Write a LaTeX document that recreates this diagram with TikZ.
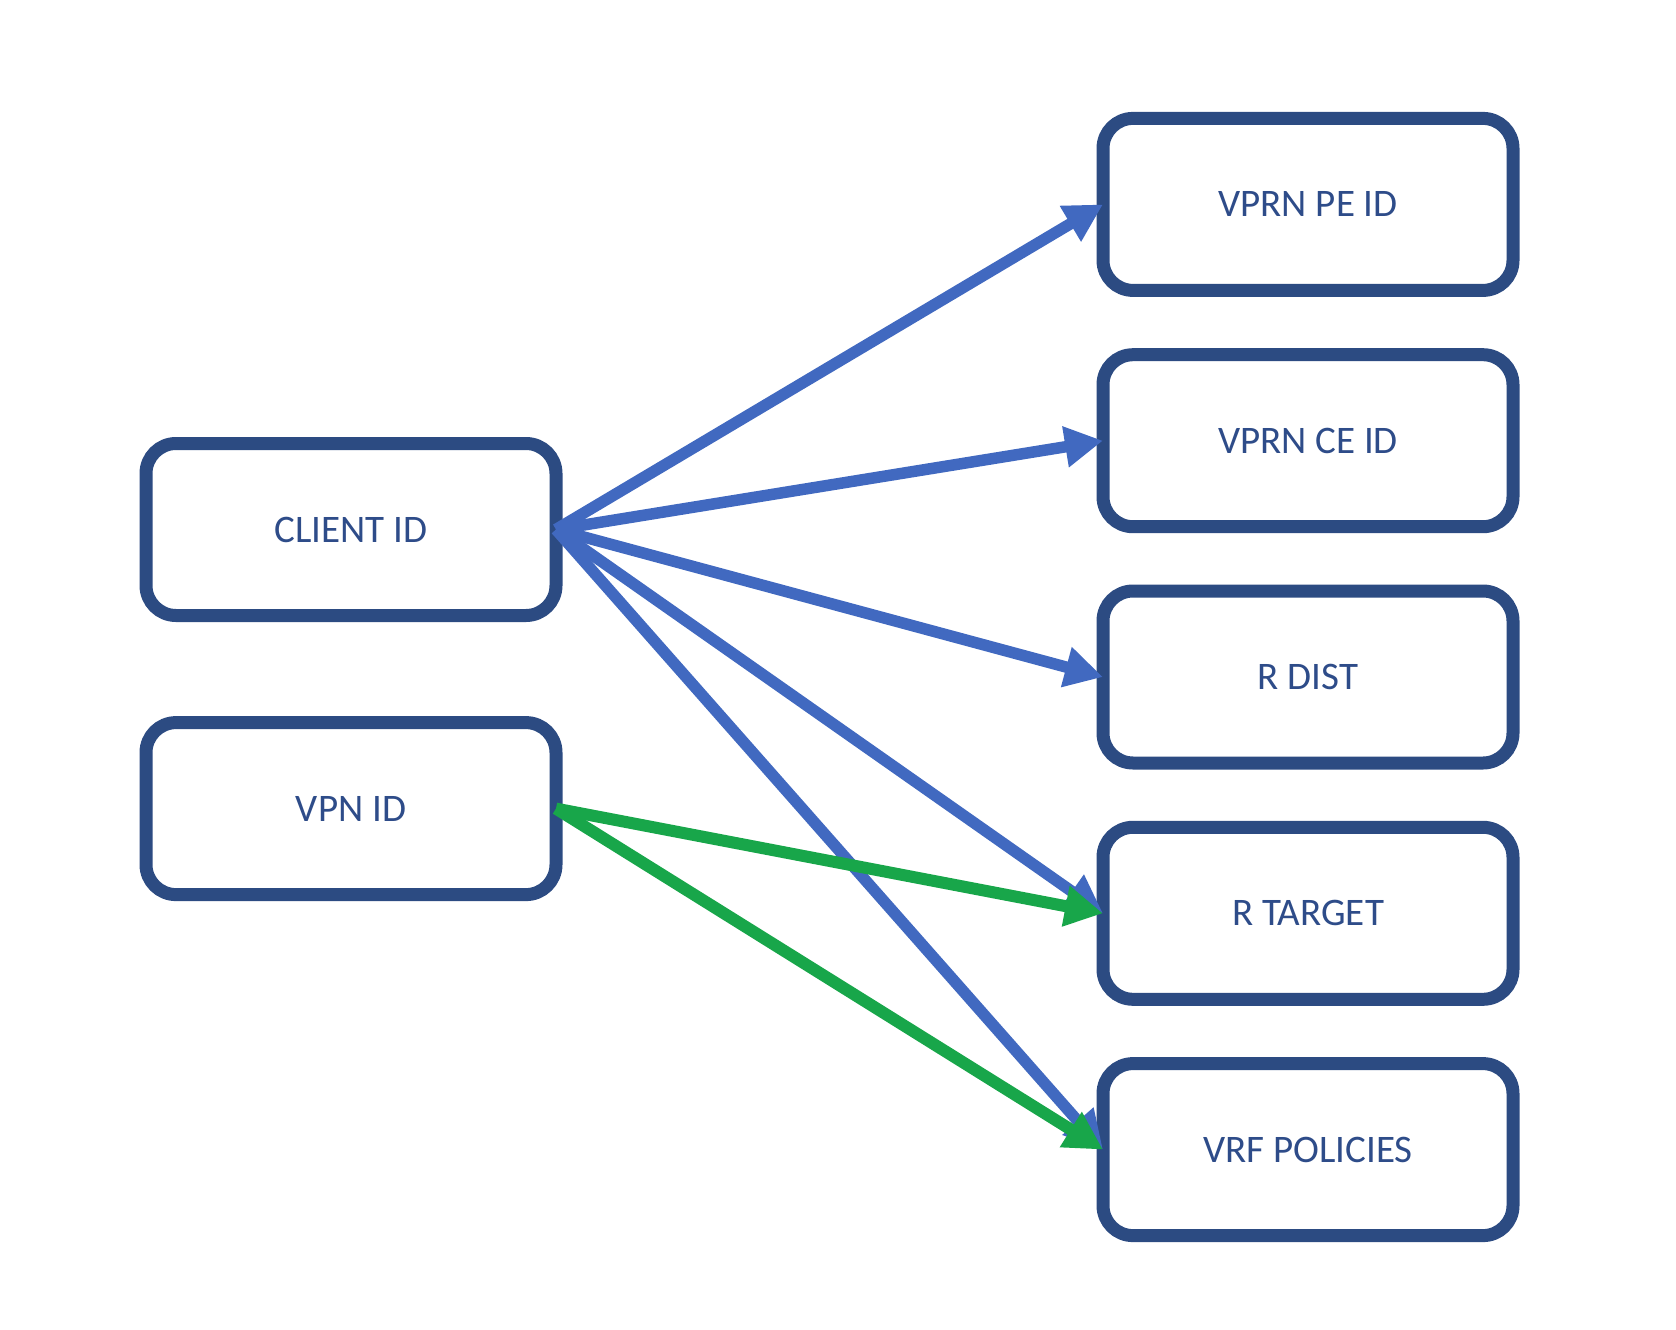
\documentclass[tikz,border=0pt]{standalone}
\usepackage{fontspec}
\setmainfont{Carlito}
\usetikzlibrary{arrows.meta}
\definecolor{boxline}{RGB}{44,75,130}
\definecolor{boxtext}{RGB}{46,76,137}
\definecolor{linkblue}{RGB}{65,105,192}
\definecolor{linkgreen}{RGB}{24,166,74}
\tikzset{
  idbox/.style={draw=boxline, line width=13pt, fill=white, rectangle,
    rounded corners=30pt, minimum width=410pt, minimum height=172pt,
    inner sep=0pt, outer sep=0pt, text=boxtext,
    font=\fontsize{39}{46}\selectfont},
  bluelink/.style={draw=linkblue, line width=11.5pt,
    -{Triangle[length=38pt,width=39pt]}},
  greenlink/.style={draw=linkgreen, line width=12pt,
    -{Triangle[length=38pt,width=39pt]}}
}
\begin{document}
\begin{tikzpicture}[x=1pt,y=-1pt]
  \useasboundingbox (0,0) rectangle (1676,1330);
  % source identifiers
  \node[idbox] (client) at (351,529.5) {CLIENT ID};
  \node[idbox] (vpn)    at (351,808.6) {VPN ID};
  % derived identifiers
  \node[idbox] (pe)     at (1308,204.4) {VPRN PE ID};
  \node[idbox] (ce)     at (1308,440.7) {VPRN CE ID};
  \node[idbox] (rdist)  at (1308,677)   {R DIST};
  \node[idbox] (rtgt)   at (1308,913.3) {R TARGET};
  \node[idbox] (vrf)    at (1308,1149.6){VRF POLICIES};
  % client id dependencies
  \draw[bluelink] (client.east) -- (pe.west);
  \draw[bluelink] (client.east) -- (ce.west);
  \draw[bluelink] (client.east) -- (rdist.west);
  \draw[bluelink] (client.east) -- (rtgt.west);
  \draw[bluelink] (client.east) -- (vrf.west);
  % vpn id dependencies
  \draw[greenlink] (vpn.east) -- (rtgt.west);
  \draw[greenlink] (vpn.east) -- (vrf.west);
\end{tikzpicture}
\end{document}
